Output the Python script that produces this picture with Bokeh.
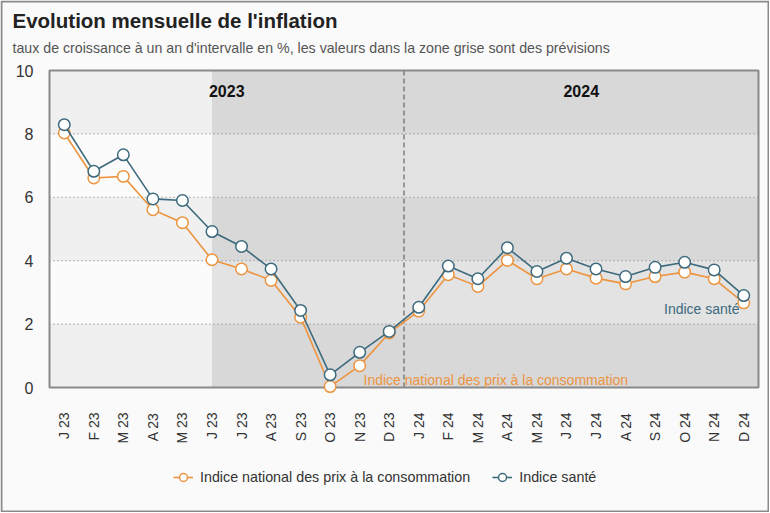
import math
from bokeh.plotting import figure
from bokeh.models import Range1d, Label, Legend, LegendItem
from bokeh.embed import file_html
from bokeh.resources import INLINE

# ---- data ----
months = ["J 23", "F 23", "M 23", "A 23", "M 23", "J 23", "J 23", "A 23", "S 23", "O 23", "N 23", "D 23",
          "J 24", "F 24", "M 24", "A 24", "M 24", "J 24", "J 24", "A 24", "S 24", "O 24", "N 24", "D 24"]
inpc = [8.03, 6.61, 6.66, 5.61, 5.20, 4.03, 3.74, 3.38, 2.22, 0.03, 0.69, 1.72,
        2.41, 3.56, 3.19, 4.01, 3.43, 3.74, 3.45, 3.27, 3.50, 3.64, 3.43, 2.67]
sante = [8.29, 6.82, 7.34, 5.95, 5.90, 4.92, 4.45, 3.74, 2.43, 0.40, 1.11, 1.77,
         2.53, 3.83, 3.43, 4.41, 3.66, 4.08, 3.74, 3.50, 3.79, 3.95, 3.71, 2.90]
y_ticks = [0, 2, 4, 6, 8, 10]
grid_values = [2, 4, 6, 8]
series_names = ["Indice national des prix à la consommation", "Indice santé"]
year_labels = ["2023", "2024"]
title = "Evolution mensuelle de l'inflation"
subtitle = "taux de croissance à un an d'intervalle en %, les valeurs dans la zone grise sont des prévisions"

ORANGE = "#ec9440"
BLUE = "#3d6a7d"
FONT = "Liberation Sans"

# ---- layout (pixels) ----
W, H = 769, 512
PL, PR, PT, PB = 49, 758, 70, 387          # plot-area box
n = len(months)
YMAX = 10
ux = (PR - PL) / n                          # px per category
uy = (PB - PT) / YMAX                       # px per unit


def px2x(px):
    return (px - PL) / ux - 0.5


def px2y(py):
    return (PB - py) / uy


x = list(range(n))
xl, xr = -0.5, n - 0.5
forecast_start = 5       # first forecast month index (June 2023)
year_split = 11.5        # between Dec 23 and Jan 24

p = figure(width=W, height=H, output_backend="svg", toolbar_location=None,
           x_range=Range1d(px2x(0), px2x(W)), y_range=Range1d(px2y(H), px2y(0)),
           x_axis_location=None, y_axis_location=None, min_border=0)
p.title.visible = False
p.grid.visible = False
p.outline_line_color = None
p.background_fill_color = "#fafafa"
p.border_fill_color = "#fafafa"

# background bands
band_bottoms = [0, 2, 4, 6, 8]
band_tops = [2, 4, 6, 8, 10]
left_cols = ["#f0f0f0", "#fbfbfb", "#f0f0f0", "#fbfbfb", "#f0f0f0"]
right_cols = ["#d8d8d8", "#e3e3e3", "#d8d8d8", "#e3e3e3", "#d8d8d8"]
p.quad(left=xl, right=forecast_start, bottom=band_bottoms, top=band_tops,
       fill_color=left_cols, line_color=None)
p.quad(left=forecast_start, right=xr, bottom=band_bottoms, top=band_tops,
       fill_color=right_cols, line_color=None)

# dotted gridlines
p.segment(x0=[xl] * len(grid_values), x1=[xr] * len(grid_values), y0=grid_values, y1=grid_values,
          line_color="#8a8a8a", line_dash="1 3", line_width=1.2)
# year separator
p.segment(x0=[year_split], x1=[year_split], y0=[0], y1=[YMAX], line_color="#666666",
          line_dash="5 3", line_width=1.2)
# plot-area frame
p.quad(left=[xl], right=[xr], bottom=[0], top=[YMAX], fill_color=None,
       line_color="#8a8a8a", line_width=2)
# outer border
p.quad(left=[px2x(1)], right=[px2x(W - 1)], bottom=[px2y(H - 1)], top=[px2y(1)],
       fill_color=None, line_color="#8a8a8a", line_width=2)

# series
l1 = p.line(x, inpc, line_color=ORANGE, line_width=1.6)
s1 = p.scatter(x, inpc, size=11.5, fill_color="white", line_color=ORANGE, line_width=1.5)
l2 = p.line(x, sante, line_color=BLUE, line_width=1.6)
s2 = p.scatter(x, sante, size=11.5, fill_color="white", line_color=BLUE, line_width=1.5)

# y tick labels
p.text(x=[px2x(33)] * len(y_ticks), y=y_ticks, text=[str(t) for t in y_ticks],
       text_align="right", text_baseline="middle", text_font={"value": FONT},
       text_font_size="16px", text_color="#333333")
# x tick labels (rotated)
p.text(x=x, y=[px2y(412)] * n, text=months, angle=math.pi / 2,
       text_align="right", text_baseline="middle", text_font={"value": FONT},
       text_font_size="14px", text_color="#333333")

# year labels
p.add_layout(Label(x=(xl + year_split) / 2, y=px2y(90), text=year_labels[0], text_align="center",
                   text_baseline="middle", text_font=FONT, text_font_size="16px",
                   text_font_style="bold", text_color="#111111"))
p.add_layout(Label(x=(year_split + xr) / 2, y=px2y(90), text=year_labels[1],
                   text_align="center", text_baseline="middle", text_font=FONT,
                   text_font_size="16px", text_font_style="bold", text_color="#111111"))

# inline series labels
p.add_layout(Label(x=px2x(363), y=px2y(379), text=series_names[0], text_align="left",
                   text_baseline="middle", text_font=FONT, text_font_size="14px",
                   text_color=ORANGE))
p.add_layout(Label(x=px2x(739), y=px2y(308), text=series_names[1], text_align="right",
                   text_baseline="middle", text_font=FONT, text_font_size="14px",
                   text_color=BLUE))

# title & subtitle
p.add_layout(Label(x=px2x(12), y=px2y(20), text=title, text_align="left",
                   text_baseline="middle", text_font=FONT, text_font_size="20.5px",
                   text_font_style="bold", text_color="#222222"))
p.add_layout(Label(x=px2x(12), y=px2y(47), text=subtitle, text_align="left",
                   text_baseline="middle", text_font=FONT, text_font_size="14.2px",
                   text_color="#555555"))

# legend
legend = Legend(items=[LegendItem(label=series_names[0], renderers=[l1, s1]),
                       LegendItem(label=series_names[1], renderers=[l2, s2])],
                location=(173, H - 487), orientation="horizontal", padding=0, margin=0,
                spacing=22, label_standoff=7, glyph_width=20, glyph_height=20,
                border_line_color=None, background_fill_alpha=0,
                label_text_font=FONT, label_text_font_size="14.3px", label_text_color="#333333")
p.add_layout(legend, "center")

open("out.html", "w").write(file_html(p, INLINE))
